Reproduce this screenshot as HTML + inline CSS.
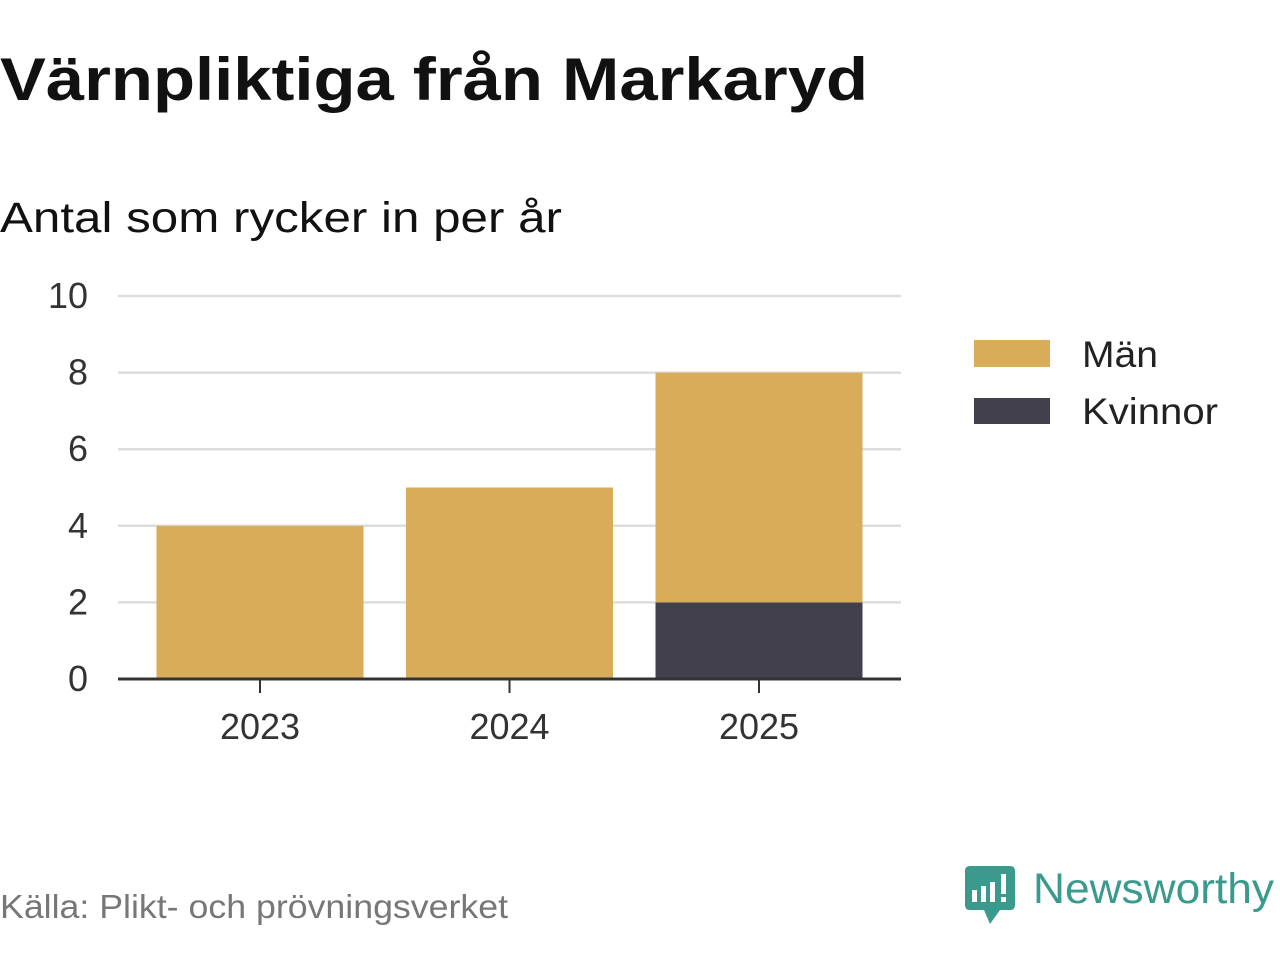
<!DOCTYPE html>
<html><head><meta charset="utf-8"><style>
body{margin:0;width:1280px;height:960px;background:#fff;font-family:"Liberation Sans",sans-serif;overflow:hidden}
</style></head><body>
<svg width="1280" height="960" xmlns="http://www.w3.org/2000/svg">
<text x="0" y="100" font-size="60" font-weight="bold" fill="#111" textLength="868" lengthAdjust="spacingAndGlyphs">Värnpliktiga från Markaryd</text>
<text x="0" y="232" font-size="43" fill="#111" textLength="562" lengthAdjust="spacingAndGlyphs">Antal som rycker in per år</text>
<g id="grid"></g><g id="bars"></g><g id="axes"></g>
<rect x="974" y="340" width="76" height="27" fill="#d9ac5a"/>
<text x="1082" y="367" font-size="37" fill="#222" textLength="76" lengthAdjust="spacingAndGlyphs">Män</text>
<rect x="974" y="398" width="76" height="26" fill="#42404d"/>
<text x="1082" y="424" font-size="37" fill="#222" textLength="136" lengthAdjust="spacingAndGlyphs">Kvinnor</text>
<text x="0" y="918" font-size="33" fill="#777" textLength="508" lengthAdjust="spacingAndGlyphs">Källa: Plikt- och prövningsverket</text>
<g>
<path d="M970 866 H1010 Q1015 866 1015 871 V905 Q1015 910 1010 910 H1000 L990 924 L984 910 H970 Q965 910 965 905 V871 Q965 866 970 866Z" fill="#3a9a8c"/>
<rect x="972" y="890" width="5" height="12" fill="#fff"/><rect x="981" y="886" width="5" height="16" fill="#fff"/><rect x="990" y="882" width="5" height="20" fill="#fff"/><rect x="1001" y="874" width="5" height="20" fill="#fff"/><rect x="1001" y="897" width="5" height="5" fill="#fff"/>
<text x="1033" y="903" font-size="43" fill="#3a9a8c" textLength="241" lengthAdjust="spacingAndGlyphs">Newsworthy</text>
</g>
</svg>
<script>
const categories=["2023","2024","2025"];
const kvinnor=[0,0,2];
const man=[4,5,6];
const yTicks=[0,2,4,6,8,10];
const NS="http://www.w3.org/2000/svg";
const y0=679,yTop=296,yMax=10,xL=118,xR=901;
const y=v=>y0-(v/yMax)*(y0-yTop);
const xc=i=>260+249.5*i;
function mk(t,a,p){const e=document.createElementNS(NS,t);for(const k in a)e.setAttribute(k,a[k]);p.appendChild(e);return e;}
const grid=document.getElementById('grid'),bars=document.getElementById('bars'),axes=document.getElementById('axes');
yTicks.forEach(v=>{
 if(v>0){const l=mk('line',{x1:xL,x2:xR,y1:y(v),y2:y(v),stroke:'#ddd','stroke-width':2.5},grid);
 
 }
 const t=mk('text',{x:88,y:y(v)+12,'font-size':36,'text-anchor':'end',fill:'#333'},axes);t.textContent=v;
 
 
});
const bw=207;
categories.forEach((c,i)=>{
 const cx=xc(i);
 const r1=mk('rect',{x:cx-bw/2,y:y(kvinnor[i]),width:bw,height:y0-y(kvinnor[i]),fill:'#42404d'},bars);
 
 
 const tot=kvinnor[i]+man[i];
 const r2=mk('rect',{x:cx-bw/2,y:y(tot),width:bw,height:y(kvinnor[i])-y(tot),fill:'#d9ac5a'},bars);
 
 
 const tk=mk('line',{x1:cx,x2:cx,y1:y0,y2:y0+14,stroke:'#333','stroke-width':2},axes);
 
 
 const t=mk('text',{x:cx,y:739,'font-size':36,'text-anchor':'middle',fill:'#333'},axes);t.textContent=c;
 
 
});
const ax=mk('line',{x1:xL,x2:xR,y1:y0,y2:y0,stroke:'#333','stroke-width':3},axes);


</script>
</body></html>
